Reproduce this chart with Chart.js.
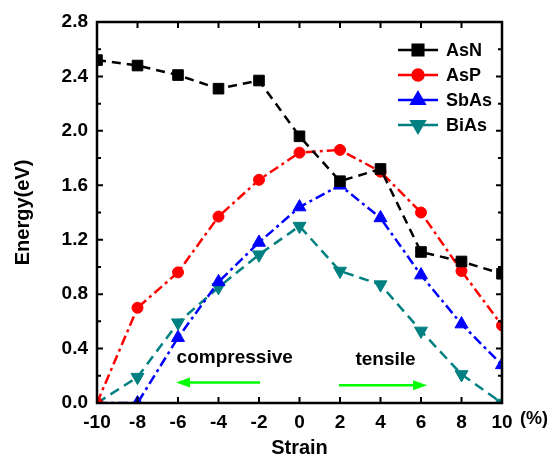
<!DOCTYPE html>
<html lang="en">
<head>
  <meta charset="UTF-8" />
  <title>Energy vs Strain</title>
  <script src="https://cdn.jsdelivr.net/npm/chart.js"></script>
  <style>
    html, body { margin: 0; padding: 0; background: #fff; }
    #wrap { width: 551px; height: 460px; }
  </style>
</head>
<body>
  <div id="wrap"><canvas id="grafica" width="551" height="460"></canvas></div>

  <script>
    // strain (%) and band gap energies (eV)
    const strain = [-10, -8, -6, -4, -2, 0, 2, 4, 6, 8, 10];
    const asN  = [2.52, 2.48, 2.41, 2.31, 2.37, 1.96, 1.63, 1.72, 1.11, 1.04, 0.95];
    const asP  = [0.00, 0.70, 0.96, 1.37, 1.64, 1.84, 1.86, 1.70, 1.40, 0.97, 0.57];
    const sbAs = [0.00, 0.00, 0.48, 0.89, 1.18, 1.44, 1.60, 1.36, 0.94, 0.58, 0.28];
    const biAs = [0.00, 0.19, 0.59, 0.85, 1.09, 1.30, 0.97, 0.87, 0.53, 0.21, 0.00];

    const xTicks = [-10, -8, -6, -4, -2, 0, 2, 4, 6, 8, 10];
    const yTicks = [0, 0.4, 0.8, 1.2, 1.6, 2.0, 2.4, 2.8];
    const yMinor = [0.2, 0.6, 1.0, 1.4, 1.8, 2.2, 2.6];

    // annotations: [label, x, y] and arrows [fromX, toX, y]
    const notes = [['compressive', -3.2, 0.33], ['tensile', 4.25, 0.32]];
    const arrows = [[-1.95, -6.1, 0.15], [1.95, 6.3, 0.13]];

    const fam = '"Liberation Sans", Arial, sans-serif';

    function serie(label, data, color, style, radius, rotation, dash) {
      return {
        label: label,
        data: strain.map((x, i) => ({ x: x, y: data[i] })),
        borderColor: color,
        backgroundColor: color,
        pointBackgroundColor: color,
        pointBorderColor: color,
        pointBorderWidth: 1,
        pointStyle: style,
        pointRadius: radius,
        pointRotation: rotation,
        borderWidth: 2.5,
        borderDash: dash,
        tension: 0,
        fill: false,
        clip: 0
      };
    }

    const extras = {
      id: 'extras',
      afterDatasetsDraw(chart) {
        const ctx = chart.ctx;
        const a = chart.chartArea;
        const sx = chart.scales.x, sy = chart.scales.y;
        ctx.save();

        // frame
        ctx.strokeStyle = '#000';
        ctx.lineWidth = 2.5;
        ctx.strokeRect(a.left, a.top, a.right - a.left, a.bottom - a.top);

        // inward ticks
        ctx.lineWidth = 2;
        ctx.beginPath();
        xTicks.forEach(v => {
          const px = sx.getPixelForValue(v);
          ctx.moveTo(px, a.bottom); ctx.lineTo(px, a.bottom - 6);
          ctx.moveTo(px, a.top); ctx.lineTo(px, a.top + 6);
        });
        yTicks.forEach(v => {
          const py = sy.getPixelForValue(v);
          ctx.moveTo(a.left, py); ctx.lineTo(a.left + 6, py);
          ctx.moveTo(a.right, py); ctx.lineTo(a.right - 6, py);
        });
        yMinor.forEach(v => {
          const py = sy.getPixelForValue(v);
          ctx.moveTo(a.left, py); ctx.lineTo(a.left + 4, py);
          ctx.moveTo(a.right, py); ctx.lineTo(a.right - 4, py);
        });
        ctx.stroke();

        // "(%)" unit after the last x label
        ctx.fillStyle = '#000';
        ctx.font = 'bold 18px ' + fam;
        ctx.textAlign = 'left';
        ctx.textBaseline = 'middle';
        ctx.fillText('(%)', a.right + 18, a.bottom + 16);

        // compressive / tensile notes
        ctx.font = 'bold 19px ' + fam;
        ctx.textAlign = 'center';
        notes.forEach(n => {
          ctx.fillText(n[0], sx.getPixelForValue(n[1]), sy.getPixelForValue(n[2]));
        });

        // green arrows
        ctx.strokeStyle = '#00ff00';
        ctx.fillStyle = '#00ff00';
        ctx.lineWidth = 2.5;
        arrows.forEach(ar => {
          const x1 = sx.getPixelForValue(ar[0]);
          const x2 = sx.getPixelForValue(ar[1]);
          const py = sy.getPixelForValue(ar[2]);
          const dir = Math.sign(x2 - x1);
          ctx.beginPath();
          ctx.moveTo(x1, py); ctx.lineTo(x2 - dir * 10, py);
          ctx.stroke();
          ctx.beginPath();
          ctx.moveTo(x2, py);
          ctx.lineTo(x2 - dir * 14, py - 5);
          ctx.lineTo(x2 - dir * 14, py + 5);
          ctx.closePath();
          ctx.fill();
        });

        // legend in the top right corner
        ctx.font = 'bold 18px ' + fam;
        ctx.textAlign = 'left';
        chart.data.datasets.forEach((ds, i) => {
          const yy = a.top + 28 + i * 25;
          const x0 = a.right - 104;
          ctx.strokeStyle = ds.borderColor;
          ctx.lineWidth = 2.5;
          ctx.beginPath();
          ctx.moveTo(x0, yy); ctx.lineTo(x0 + 40, yy);
          ctx.stroke();
          ctx.fillStyle = ds.borderColor;
          Chart.helpers.drawPoint(ctx, {
            pointStyle: ds.pointStyle,
            radius: ds.pointRadius,
            rotation: ds.pointRotation,
            borderWidth: 1
          }, x0 + 20, yy);
          ctx.fillStyle = '#000';
          ctx.fillText(ds.label, x0 + 48, yy + 1);
        });

        ctx.restore();
      }
    };

    const config = {
      type: 'line',
      data: {
        datasets: [
          serie('AsN', asN, '#000000', 'rect', 7.5, 0, [9, 6]),
          serie('AsP', asP, '#ff0000', 'circle', 5.5, 0, [10, 4, 3, 4]),
          serie('SbAs', sbAs, '#0000ff', 'triangle', 7.5, 0, [10, 4, 3, 4]),
          serie('BiAs', biAs, '#008080', 'triangle', 7.5, 180, [10, 6])
        ]
      },
      options: {
        responsive: false,
        animation: false,
        layout: { padding: { left: 0, right: 49, top: 22, bottom: 0 } },
        plugins: {
          legend: { display: false },
          tooltip: { enabled: false }
        },
        scales: {
          x: {
            type: 'linear',
            min: -10,
            max: 10,
            afterFit: s => { s.height = 57; },
            afterBuildTicks: s => { s.ticks = xTicks.map(v => ({ value: v })); },
            grid: { display: false, drawTicks: false },
            border: { display: false },
            ticks: {
              color: '#000',
              padding: 8,
              maxRotation: 0,
              font: { family: fam, size: 19, weight: 'bold' },
              callback: v => v
            },
            title: {
              display: true,
              text: 'Strain',
              color: '#000',
              padding: { top: 0, bottom: 0 },
              font: { family: fam, size: 20, weight: 'bold' }
            }
          },
          y: {
            min: 0,
            max: 2.8,
            afterFit: s => { s.width = 97; },
            afterBuildTicks: s => { s.ticks = yTicks.map(v => ({ value: v })); },
            grid: { display: false, drawTicks: false },
            border: { display: false },
            ticks: {
              color: '#000',
              padding: 9,
              font: { family: fam, size: 19, weight: 'bold' },
              callback: v => v.toFixed(1)
            },
            title: {
              display: true,
              text: 'Energy(eV)',
              color: '#000',
              padding: { top: 11, bottom: 0 },
              font: { family: fam, size: 20, weight: 'bold' }
            }
          }
        }
      },
      plugins: [extras]
    };

    const ctx = document.getElementById('grafica').getContext('2d');
    window.miGrafica = new Chart(ctx, config);
  </script>
</body>
</html>
